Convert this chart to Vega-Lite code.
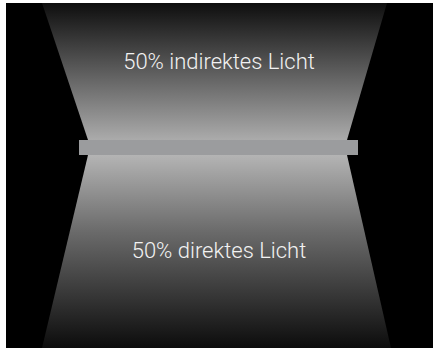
{
  "$schema": "https://vega.github.io/schema/vega-lite/v6.json",
  "width": 433,
  "height": 348,
  "autosize": {"type": "fit", "contains": "padding"},
  "padding": 0,
  "background": "white",
  "config": {"view": {"stroke": null}},
  "datasets": {
    "frame": [{"x": 6, "x2": 433, "y": 3, "y2": 348}],
    "upper": [{"y": 3, "x": 42, "x2": 387}, {"y": 140, "x": 88, "x2": 347}],
    "lower": [{"y": 155, "x": 88, "x2": 347}, {"y": 348, "x": 42, "x2": 391}],
    "bar": [{"x": 79, "x2": 358, "y": 140, "y2": 155}],
    "labels": [{"x": 219, "y": 69, "label": "50% indirektes Licht"}, {"x": 219, "y": 258, "label": "50% direktes Licht"}]
  },
  "layer": [
    {
      "data": {"name": "frame"},
      "mark": {"type": "rect", "color": "black"},
      "encoding": {
        "x": {"field": "x", "type": "quantitative", "scale": {"domain": [0, 433]}, "axis": null},
        "x2": {"field": "x2"},
        "y": {"field": "y", "type": "quantitative", "scale": {"domain": [0, 348], "reverse": true}, "axis": null},
        "y2": {"field": "y2"}
      }
    },
    {
      "data": {"name": "upper"},
      "mark": {
        "type": "area",
        "orient": "horizontal",
        "color": {"gradient": "linear", "x1": 0, "y1": 0, "x2": 0, "y2": 1,
          "stops": [{"offset": 0, "color": "#0e0e0e"}, {"offset": 1, "color": "#ababab"}]}
      },
      "encoding": {
        "y": {"field": "y", "type": "quantitative", "scale": {"domain": [0, 348], "reverse": true}, "axis": null},
        "x": {"field": "x", "type": "quantitative", "scale": {"domain": [0, 433]}, "axis": null},
        "x2": {"field": "x2"}
      }
    },
    {
      "data": {"name": "lower"},
      "mark": {
        "type": "area",
        "orient": "horizontal",
        "color": {"gradient": "linear", "x1": 0, "y1": 0, "x2": 0, "y2": 1,
          "stops": [{"offset": 0, "color": "#b4b4b4"}, {"offset": 0.4, "color": "#6a6a6a"}, {"offset": 1, "color": "#0c0c0c"}]}
      },
      "encoding": {
        "y": {"field": "y", "type": "quantitative", "scale": {"domain": [0, 348], "reverse": true}, "axis": null},
        "x": {"field": "x", "type": "quantitative", "scale": {"domain": [0, 433]}, "axis": null},
        "x2": {"field": "x2"}
      }
    },
    {
      "data": {"name": "bar"},
      "mark": {"type": "rect", "color": "#9b9c9e"},
      "encoding": {
        "x": {"field": "x", "type": "quantitative", "scale": {"domain": [0, 433]}, "axis": null},
        "x2": {"field": "x2"},
        "y": {"field": "y", "type": "quantitative", "scale": {"domain": [0, 348], "reverse": true}, "axis": null},
        "y2": {"field": "y2"}
      }
    },
    {
      "data": {"name": "labels"},
      "mark": {"type": "text", "font": "Roboto", "fontSize": 22, "fontWeight": 300, "color": "#f2f2f2", "align": "center", "baseline": "alphabetic"},
      "encoding": {
        "x": {"field": "x", "type": "quantitative", "scale": {"domain": [0, 433]}, "axis": null},
        "y": {"field": "y", "type": "quantitative", "scale": {"domain": [0, 348], "reverse": true}, "axis": null},
        "text": {"field": "label"}
      }
    }
  ]
}
